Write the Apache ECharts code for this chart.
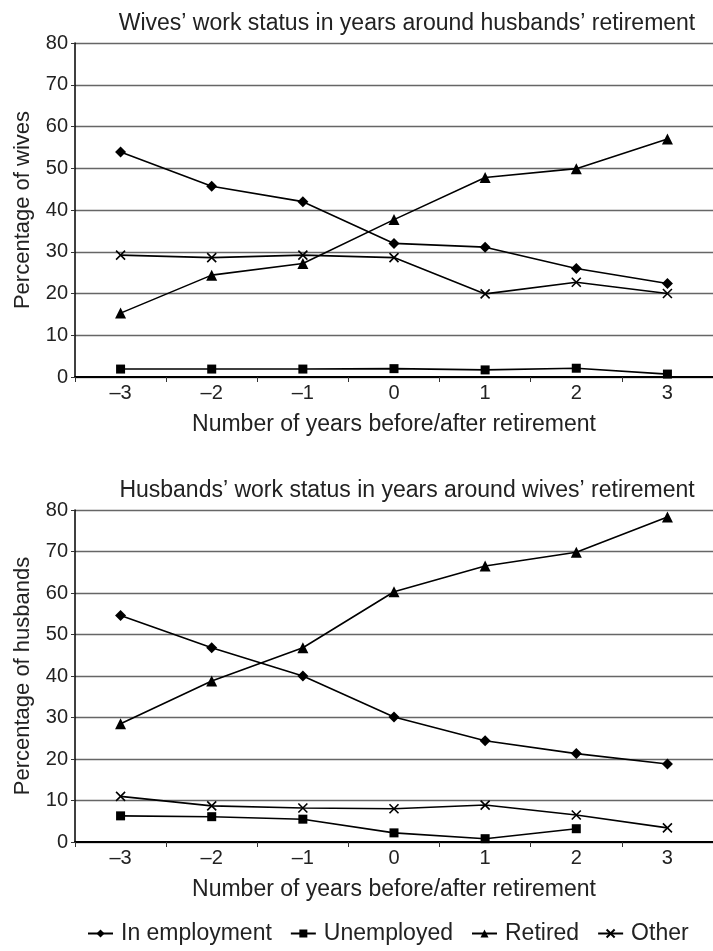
<!DOCTYPE html>
<html>
<head>
<meta charset="utf-8">
<script src="https://cdn.jsdelivr.net/npm/echarts@6/dist/echarts.min.js"></script>
<style>
html,body{margin:0;padding:0;background:#fff;}
#chart{width:713px;height:951px;}
</style>
</head>
<body>
<div id="chart"></div>
<script>
const categories = ['–3','–2','–1','0','1','2','3'];
const seriesNames = ['In employment','Unemployed','Retired','Other'];

// Top panel: wives' work status around husbands' retirement
const wivesEmployment = [53.9, 45.7, 42.0, 32.0, 31.1, 26.0, 22.4];
const wivesUnemployed = [1.9, 1.9, 1.9, 2.0, 1.7, 2.1, 0.7];
const wivesRetired    = [15.3, 24.4, 27.2, 37.7, 47.8, 49.9, 57.0];
const wivesOther      = [29.2, 28.6, 29.2, 28.6, 19.9, 22.7, 20.0];

// Bottom panel: husbands' work status around wives' retirement
const husbEmployment = [54.6, 46.8, 40.0, 30.1, 24.4, 21.3, 18.8];
const husbUnemployed = [6.3, 6.1, 5.5, 2.2, 0.8, 3.2, null];
const husbRetired    = [28.5, 38.8, 46.8, 60.3, 66.5, 69.8, 78.3];
const husbOther      = [11.0, 8.7, 8.2, 8.0, 8.9, 6.5, 3.4];

const yTicks = { min: 0, max: 80, interval: 10 };

const FONT = "'Liberation Sans', Arial, sans-serif";
const TXT = '#222';
const crossPath = 'path://M0,0L10,10M10,0L0,10';

const symbols = ['diamond', 'rect', 'triangle', crossPath];
const symSizes = [11, 9, 11, 9];

function mkSeries(data, idx, gi) {
  return {
    name: seriesNames[idx],
    type: 'line',
    xAxisIndex: gi, yAxisIndex: gi,
    data: data,
    symbol: symbols[idx],
    symbolSize: symSizes[idx],
    showAllSymbol: true,
    connectNulls: false,
    lineStyle: { color: '#000', width: 1.6 },
    itemStyle: { color: '#000', borderColor: '#000', borderWidth: idx === 3 ? 1.6 : 0 },
    emphasis: { disabled: true },
    animation: false
  };
}

function xAxis(gi) {
  return {
    type: 'category', gridIndex: gi, data: categories,
    boundaryGap: true,
    name: 'Number of years before/after retirement',
    nameLocation: 'middle', nameGap: 36,
    nameTextStyle: { fontFamily: FONT, fontSize: 23, color: TXT },
    axisLine: { lineStyle: { color: '#000', width: 1.8 } },
    axisTick: { show: true, length: 5, alignWithLabel: false, lineStyle: { color: '#333', width: 1 } },
    axisLabel: { fontFamily: FONT, fontSize: 20, color: TXT, margin: 6 },
    splitLine: { show: false }
  };
}

function yAxis(gi, name) {
  return {
    type: 'value', gridIndex: gi,
    min: yTicks.min, max: yTicks.max, interval: yTicks.interval,
    name: name, nameLocation: 'middle', nameGap: 41,
    nameTextStyle: { fontFamily: FONT, fontSize: 22, color: TXT },
    axisLine: { show: true, lineStyle: { color: '#000', width: 1.5 } },
    axisTick: { show: true, length: 4, lineStyle: { color: '#333', width: 1 } },
    axisLabel: { fontFamily: FONT, fontSize: 20, color: TXT, margin: 7 },
    splitLine: { show: true, lineStyle: { color: '#666', width: 1.3 } }
  };
}

const chart = echarts.init(document.getElementById('chart'), null, { renderer: 'canvas' });
chart.setOption({
  animation: false,
  backgroundColor: '#fff',
  title: [
    { text: 'Wives’ work status in years around husbands’ retirement', left: 402, top: 7, textAlign: 'center',
      textStyle: { fontFamily: FONT, fontSize: 23, fontWeight: 'normal', color: TXT } },
    { text: 'Husbands’ work status in years around wives’ retirement', left: 402, top: 474, textAlign: 'center',
      textStyle: { fontFamily: FONT, fontSize: 23, fontWeight: 'normal', color: TXT } }
  ],
  grid: [
    { left: 75, top: 43, width: 642, height: 334 },
    { left: 75, top: 510, width: 642, height: 332 }
  ],
  xAxis: [xAxis(0), xAxis(1)],
  yAxis: [yAxis(0, 'Percentage of wives'), yAxis(1, 'Percentage of husbands')],
  legend: {
    top: 917, left: 82,
    data: seriesNames,
    itemWidth: 25, itemHeight: 10, itemGap: 18,
    textStyle: { fontFamily: FONT, fontSize: 23, color: TXT, padding: [0, 0, 0, 3] },
    selectedMode: false
  },
  series: [
    mkSeries(wivesEmployment, 0, 0),
    mkSeries(wivesUnemployed, 1, 0),
    mkSeries(wivesRetired, 2, 0),
    mkSeries(wivesOther, 3, 0),
    mkSeries(husbEmployment, 0, 1),
    mkSeries(husbUnemployed, 1, 1),
    mkSeries(husbRetired, 2, 1),
    mkSeries(husbOther, 3, 1)
  ]
});
</script>
</body>
</html>
